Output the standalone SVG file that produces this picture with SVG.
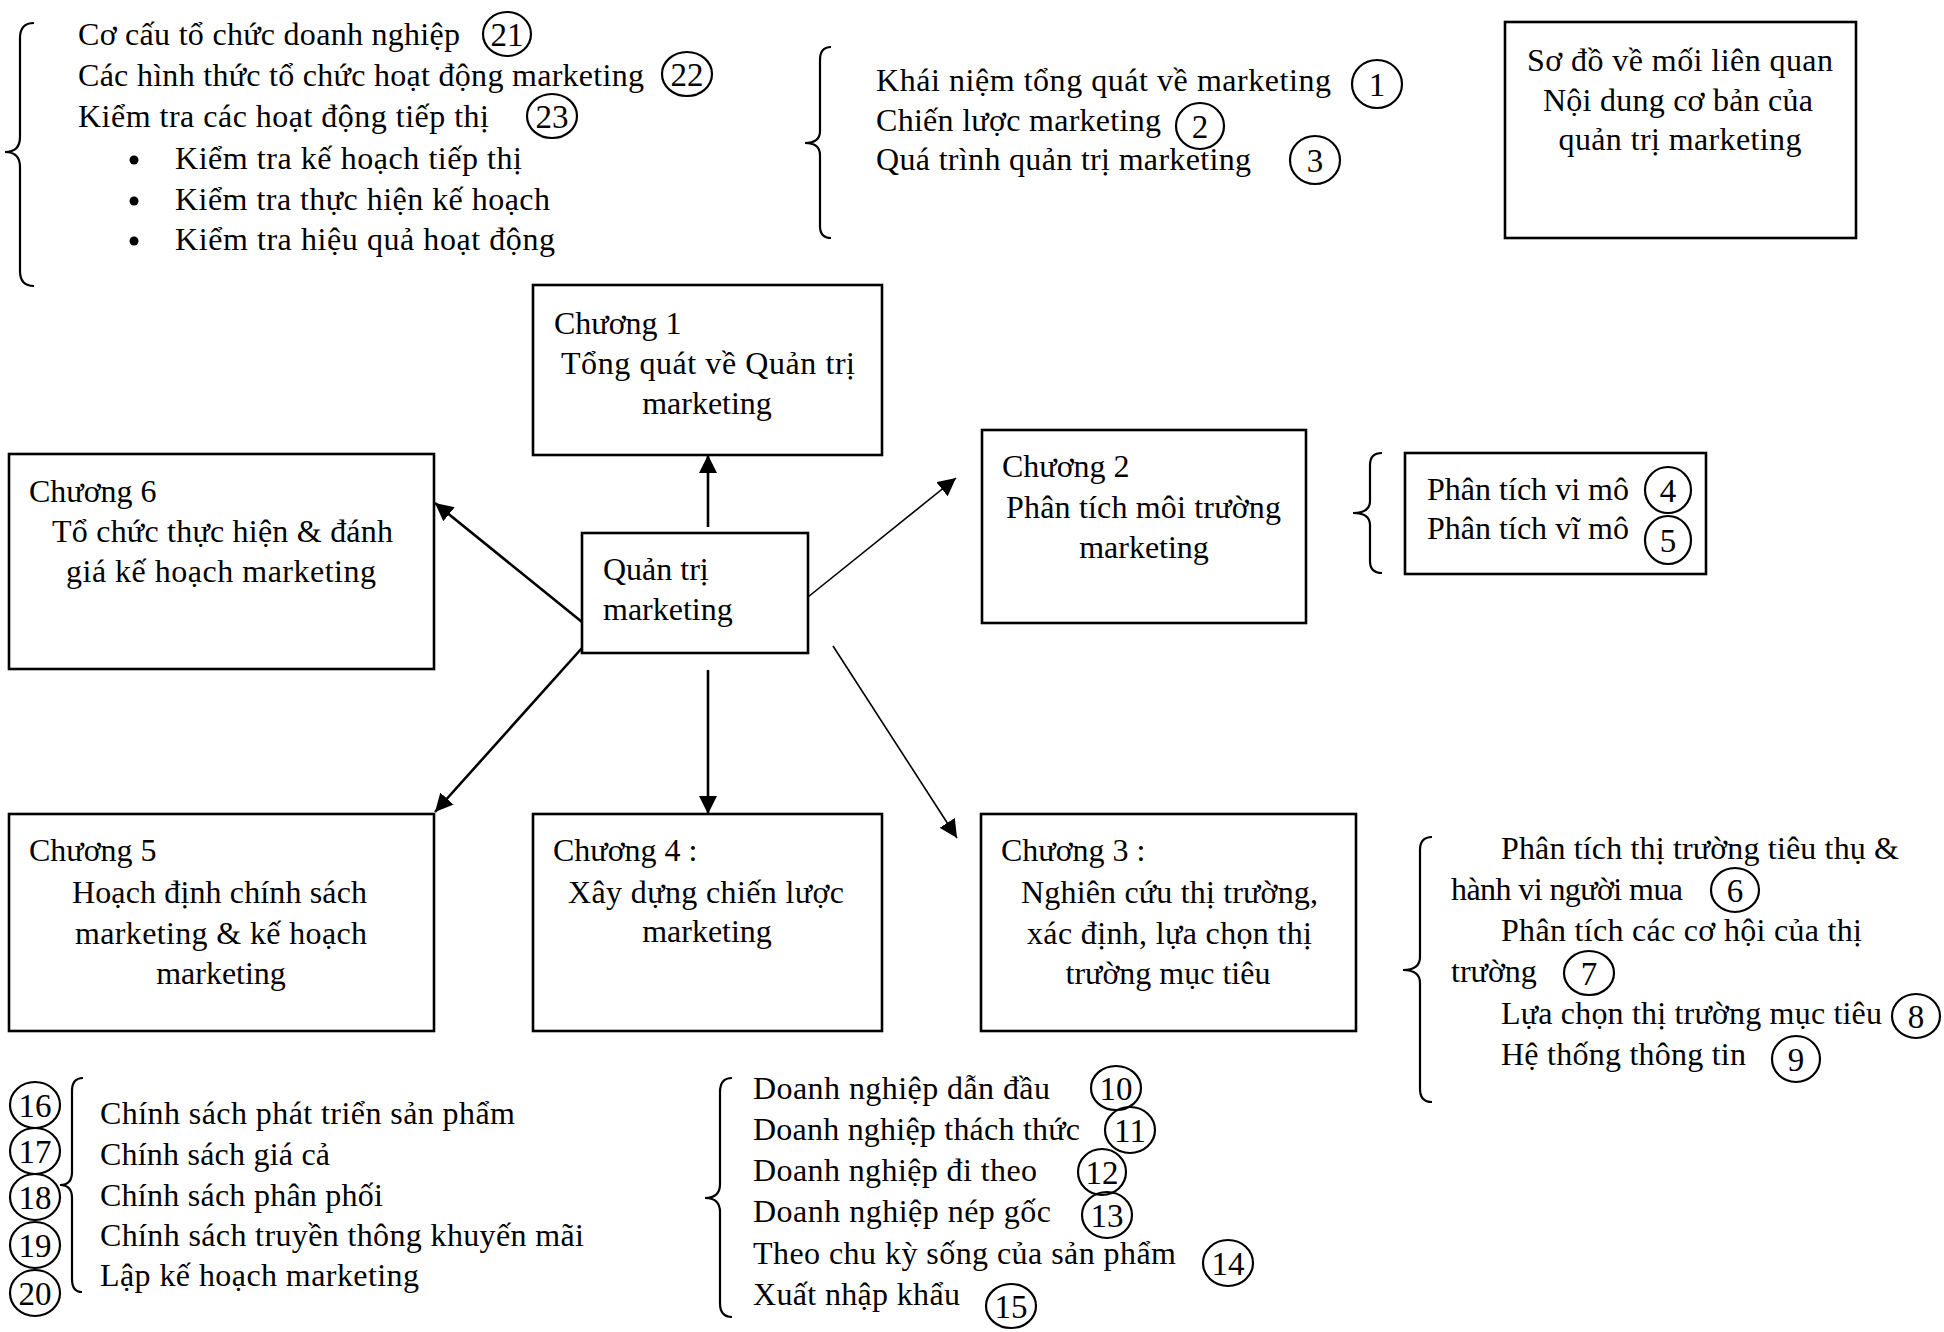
<svg xmlns="http://www.w3.org/2000/svg" width="1944" height="1332" viewBox="0 0 1944 1332">
  <style>
    .box { fill: #fff; stroke: #000; stroke-width: 2.6; }
    .t { font-family: "Liberation Serif", "Times New Roman", serif; font-size: 32px; fill: #000; }
    .c { text-anchor: middle; }
    .num { font-family: "Liberation Serif", "Times New Roman", serif; font-size: 33px; fill: #000; text-anchor: middle; }
    .ring { fill: none; stroke: #000; stroke-width: 2.2; }
    .brace { fill: none; stroke: #000; stroke-width: 2.2; }
    .link { fill: none; stroke: #000; }
    .thick { stroke-width: 2.6; }
    .thin { stroke-width: 1.6; }
  </style>
  <defs>
    <marker id="arrow" markerUnits="userSpaceOnUse" viewBox="0 0 18 18" refX="18" refY="9" markerWidth="18" markerHeight="18" orient="auto">
      <path d="M0,0 L18,9 L0,18 z" fill="#000"/>
    </marker>
  </defs>
  <rect width="1944" height="1332" fill="#fff"/>

  <!-- connectors from the central node -->
  <g id="connectors">
    <line class="link thick" x1="708" y1="527" x2="708" y2="455" marker-end="url(#arrow)"/>
    <line class="link thick" x1="582" y1="622" x2="435" y2="503" marker-end="url(#arrow)"/>
    <line class="link thick" x1="582" y1="648" x2="435" y2="812" marker-end="url(#arrow)"/>
    <line class="link thick" x1="708" y1="670" x2="708" y2="814" marker-end="url(#arrow)"/>
    <line class="link thin" x1="808" y1="597" x2="956" y2="478" marker-end="url(#arrow)"/>
    <line class="link thin" x1="833" y1="646" x2="957" y2="838" marker-end="url(#arrow)"/>
  </g>

  <!-- title -->
  <g id="title">
    <rect class="box" x="1505" y="22" width="351" height="216"/>
    <text class="t c" x="1680" y="71" textLength="306" lengthAdjust="spacing">Sơ đồ về mối liên quan</text>
    <text class="t c" x="1678" y="111" textLength="270" lengthAdjust="spacing">Nội dung cơ bản của</text>
    <text class="t c" x="1680" y="150" textLength="243" lengthAdjust="spacing">quản trị marketing</text>
  </g>

  <!-- central node -->
  <g id="center">
    <rect class="box" x="582" y="533" width="226" height="120"/>
    <text class="t" x="603" y="580">Quản trị</text>
    <text class="t" x="603" y="620">marketing</text>
  </g>

  <!-- chapter nodes -->
  <g id="chuong1">
    <rect class="box" x="533" y="285" width="349" height="170"/>
    <text class="t" x="554" y="334">Chương 1</text>
    <text class="t" x="561" y="374" textLength="294" lengthAdjust="spacing">Tổng quát về Quản trị</text>
    <text class="t c" x="707" y="414">marketing</text>
  </g>

  <g id="chuong2">
    <rect class="box" x="982" y="430" width="324" height="193"/>
    <text class="t" x="1002" y="477">Chương 2</text>
    <text class="t" x="1006" y="518" textLength="275" lengthAdjust="spacing">Phân tích môi trường</text>
    <text class="t c" x="1144" y="558">marketing</text>
  </g>

  <g id="chuong3">
    <rect class="box" x="981" y="814" width="375" height="217"/>
    <text class="t" x="1001" y="861">Chương 3 :</text>
    <text class="t" x="1021" y="903" textLength="297" lengthAdjust="spacing">Nghiên cứu thị trường,</text>
    <text class="t" x="1027" y="944" textLength="285" lengthAdjust="spacing">xác định, lựa chọn thị</text>
    <text class="t c" x="1168" y="984">trường mục tiêu</text>
  </g>

  <g id="chuong4">
    <rect class="box" x="533" y="814" width="349" height="217"/>
    <text class="t" x="553" y="861">Chương 4 :</text>
    <text class="t" x="568" y="903" textLength="276" lengthAdjust="spacing">Xây dựng chiến lược</text>
    <text class="t c" x="707" y="942">marketing</text>
  </g>

  <g id="chuong5">
    <rect class="box" x="9" y="814" width="425" height="217"/>
    <text class="t" x="29" y="861">Chương 5</text>
    <text class="t" x="72" y="903" textLength="295" lengthAdjust="spacing">Hoạch định chính sách</text>
    <text class="t" x="75" y="944" textLength="292" lengthAdjust="spacing">marketing &amp; kế hoạch</text>
    <text class="t c" x="221" y="984">marketing</text>
  </g>

  <g id="chuong6">
    <rect class="box" x="9" y="454" width="425" height="215"/>
    <text class="t" x="29" y="502">Chương 6</text>
    <text class="t" x="52" y="542" textLength="341" lengthAdjust="spacing">Tổ chức thực hiện &amp; đánh</text>
    <text class="t" x="66" y="582" textLength="310" lengthAdjust="spacing">giá kế hoạch marketing</text>
  </g>

  <!-- chapter 1 contents -->
  <g id="noidung-c1">
    <path class="brace" d="M831,47 Q820,47 820,60 L820,131 Q820,143 805,143 Q820,143 820,155 L820,226 Q820,238 831,238"/>
    <text class="t" x="876" y="91" textLength="455" lengthAdjust="spacing">Khái niệm tổng quát về marketing</text>
    <text class="t" x="876" y="131" textLength="285" lengthAdjust="spacing">Chiến lược marketing</text>
    <text class="t" x="876" y="170" textLength="375" lengthAdjust="spacing">Quá trình quản trị marketing</text>
    <ellipse class="ring" cx="1377" cy="84" rx="25" ry="24"/>
    <text class="num" x="1377" y="96">1</text>
    <ellipse class="ring" cx="1200" cy="126" rx="24" ry="23"/>
    <text class="num" x="1200" y="138">2</text>
    <ellipse class="ring" cx="1315" cy="160" rx="25" ry="24"/>
    <text class="num" x="1315" y="172">3</text>
  </g>

  <!-- chapter 2 contents -->
  <g id="noidung-c2">
    <path class="brace" d="M1382,453 Q1370,453 1370,465 L1370,501 Q1370,513 1353,513 Q1370,513 1370,525 L1370,561 Q1370,573 1382,573"/>
    <rect class="box" x="1405" y="453" width="301" height="121"/>
    <text class="t" x="1427" y="500" textLength="202" lengthAdjust="spacing">Phân tích vi mô</text>
    <text class="t" x="1427" y="539" textLength="202" lengthAdjust="spacing">Phân tích vĩ mô</text>
    <ellipse class="ring" cx="1668" cy="490" rx="23" ry="23"/>
    <text class="num" x="1668" y="502">4</text>
    <ellipse class="ring" cx="1668" cy="540" rx="23" ry="24"/>
    <text class="num" x="1668" y="552">5</text>
  </g>

  <!-- chapter 3 contents -->
  <g id="noidung-c3">
    <path class="brace" d="M1432,837 Q1420,837 1420,850 L1420,957 Q1420,970 1403,970 Q1420,970 1420,983 L1420,1089 Q1420,1102 1432,1102"/>
    <text class="t" x="1501" y="859" textLength="398" lengthAdjust="spacing">Phân tích thị trường tiêu thụ &amp;</text>
    <text class="t" x="1451" y="900" textLength="232" lengthAdjust="spacing">hành vi người mua</text>
    <text class="t" x="1501" y="941" textLength="361" lengthAdjust="spacing">Phân tích các cơ hội của thị</text>
    <text class="t" x="1451" y="982">trường</text>
    <text class="t" x="1501" y="1024" textLength="381" lengthAdjust="spacing">Lựa chọn thị trường mục tiêu</text>
    <text class="t" x="1501" y="1065" textLength="245" lengthAdjust="spacing">Hệ thống thông tin</text>
    <ellipse class="ring" cx="1735" cy="890" rx="24" ry="22"/>
    <text class="num" x="1735" y="902">6</text>
    <ellipse class="ring" cx="1589" cy="973" rx="25" ry="22"/>
    <text class="num" x="1589" y="985">7</text>
    <ellipse class="ring" cx="1916" cy="1016" rx="24" ry="22"/>
    <text class="num" x="1916" y="1028">8</text>
    <ellipse class="ring" cx="1796" cy="1059" rx="24" ry="23"/>
    <text class="num" x="1796" y="1071">9</text>
  </g>

  <!-- chapter 4 contents -->
  <g id="noidung-c4">
    <path class="brace" d="M732,1078 Q720,1078 720,1092 L720,1184 Q720,1198 705,1198 Q720,1198 720,1212 L720,1303 Q720,1317 732,1317"/>
    <text class="t" x="753" y="1099" textLength="297" lengthAdjust="spacing">Doanh nghiệp dẫn đầu</text>
    <text class="t" x="753" y="1140" textLength="327" lengthAdjust="spacing">Doanh nghiệp thách thức</text>
    <text class="t" x="753" y="1181" textLength="284" lengthAdjust="spacing">Doanh nghiệp đi theo</text>
    <text class="t" x="753" y="1222" textLength="298" lengthAdjust="spacing">Doanh nghiệp nép gốc</text>
    <text class="t" x="753" y="1264" textLength="423" lengthAdjust="spacing">Theo chu kỳ sống của sản phẩm</text>
    <text class="t" x="753" y="1305" textLength="207" lengthAdjust="spacing">Xuất nhập khẩu</text>
    <ellipse class="ring" cx="1116" cy="1088" rx="25" ry="22"/>
    <text class="num" x="1116" y="1100">10</text>
    <ellipse class="ring" cx="1130" cy="1130" rx="25" ry="23"/>
    <text class="num" x="1130" y="1142">11</text>
    <ellipse class="ring" cx="1102" cy="1172" rx="24" ry="23"/>
    <text class="num" x="1102" y="1184">12</text>
    <ellipse class="ring" cx="1107" cy="1215" rx="25" ry="23"/>
    <text class="num" x="1107" y="1227">13</text>
    <ellipse class="ring" cx="1228" cy="1263" rx="25" ry="23"/>
    <text class="num" x="1228" y="1275">14</text>
    <ellipse class="ring" cx="1011" cy="1306" rx="25" ry="22"/>
    <text class="num" x="1011" y="1318">15</text>
  </g>

  <!-- chapter 5 contents -->
  <g id="noidung-c5">
    <ellipse class="ring" cx="35" cy="1105" rx="25" ry="23"/>
    <text class="num" x="35" y="1117">16</text>
    <ellipse class="ring" cx="35" cy="1151" rx="25" ry="23"/>
    <text class="num" x="35" y="1163">17</text>
    <ellipse class="ring" cx="35" cy="1197" rx="25" ry="23"/>
    <text class="num" x="35" y="1209">18</text>
    <ellipse class="ring" cx="35" cy="1245" rx="25" ry="23"/>
    <text class="num" x="35" y="1257">19</text>
    <ellipse class="ring" cx="35" cy="1293" rx="25" ry="23"/>
    <text class="num" x="35" y="1305">20</text>
    <path class="brace" d="M83,1078 Q72,1078 72,1091 L72,1172 Q72,1185 60,1185 Q72,1185 72,1198 L72,1279 Q72,1292 82,1292"/>
    <text class="t" x="100" y="1124" textLength="415" lengthAdjust="spacing">Chính sách phát triển sản phẩm</text>
    <text class="t" x="100" y="1165" textLength="230" lengthAdjust="spacing">Chính sách giá cả</text>
    <text class="t" x="100" y="1206" textLength="283" lengthAdjust="spacing">Chính sách phân phối</text>
    <text class="t" x="100" y="1246" textLength="484" lengthAdjust="spacing">Chính sách truyền thông khuyến mãi</text>
    <text class="t" x="100" y="1286" textLength="319" lengthAdjust="spacing">Lập kế hoạch marketing</text>
  </g>

  <!-- chapter 6 contents -->
  <g id="noidung-c6">
    <path class="brace" d="M34,23 Q20,23 20,38 L20,137 Q20,152 5,152 Q20,152 20,167 L20,271 Q20,286 34,286"/>
    <text class="t" x="78" y="45" textLength="382" lengthAdjust="spacing">Cơ cấu tổ chức doanh nghiệp</text>
    <text class="t" x="78" y="86" textLength="566" lengthAdjust="spacing">Các hình thức tổ chức hoạt động marketing</text>
    <text class="t" x="78" y="127" textLength="411" lengthAdjust="spacing">Kiểm tra các hoạt động tiếp thị</text>
    <circle cx="134" cy="160" r="4.5" fill="#000"/>
    <text class="t" x="175" y="169" textLength="347" lengthAdjust="spacing">Kiểm tra kế hoạch tiếp thị</text>
    <circle cx="134" cy="201" r="4.5" fill="#000"/>
    <text class="t" x="175" y="210" textLength="375" lengthAdjust="spacing">Kiểm tra thực hiện kế hoạch</text>
    <circle cx="134" cy="241" r="4.5" fill="#000"/>
    <text class="t" x="175" y="250" textLength="380" lengthAdjust="spacing">Kiểm tra hiệu quả hoạt động</text>
    <ellipse class="ring" cx="507" cy="34" rx="24" ry="22"/>
    <text class="num" x="507" y="46">21</text>
    <ellipse class="ring" cx="687" cy="74" rx="25" ry="22"/>
    <text class="num" x="687" y="86">22</text>
    <ellipse class="ring" cx="552" cy="116" rx="25" ry="22"/>
    <text class="num" x="552" y="128">23</text>
  </g>
</svg>
